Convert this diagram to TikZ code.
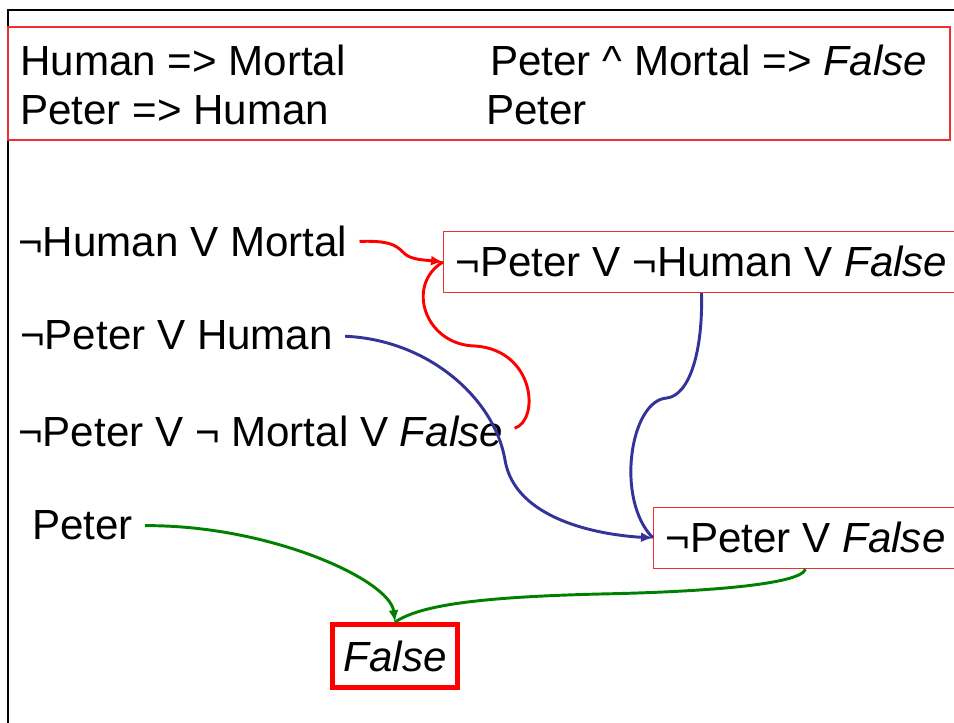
\documentclass[tikz,border=0pt]{standalone}
\usepackage{fontspec}
\setmainfont{Liberation Sans}
\usetikzlibrary{arrows.meta}

\definecolor{resblue}{HTML}{333399}
\definecolor{resgreen}{HTML}{008000}
\definecolor{boxred}{HTML}{F03030}
\newcommand{\clausefont}{\fontsize{31.6pt}{38pt}\selectfont}

\tikzstyle{clause} = [anchor=base west, inner sep=0pt, font=\clausefont]
\tikzstyle{resolvent} = [draw=boxred, line width=0.9pt, anchor=base west, inner xsep=9pt, inner ysep=0pt, minimum height=46pt, font=\clausefont]
\tikzstyle{goalbox} = [draw=red, line width=3.75pt, minimum width=93.75pt, minimum height=47pt, inner sep=0pt, font=\clausefont]
\tikzstyle{kb} = [draw=boxred, line width=0.9pt]
\tikzstyle{frame} = [line width=1.6pt]
\tikzstyle{wire} = [line width=2.2pt]
\tikzstyle{link} = [wire, -{Latex[length=9pt,width=7.5pt]}]
\tikzstyle{gap} = [shorten <=9pt]

\begin{document}
\begin{tikzpicture}[x=0.75pt, y=-0.75pt]
\useasboundingbox (0,0) rectangle (954,723);
\clip (0,0) rectangle (954,723);

\draw[frame] (8,723) -- (8,10) -- (954,10);

% knowledge base
\draw[kb] (8,27) rectangle (950,140);
\node[clause] (h1) at (20,76) {Human => Mortal};
\node[clause] (h2) at (20,125) {Peter => Human};
\node[clause] (h3) at (490,76) {Peter \textasciicircum{} Mortal => \textit{False}};
\node[clause] (h4) at (486,125) {Peter};

% clauses
\node[clause] (c1) at (18,257) {¬Human V Mortal};
\node[clause] (c2) at (20,350) {¬Peter V Human};
\node[clause] (c3) at (18,447) {¬Peter V ¬ Mortal V \textit{False}};
\node[clause] (c4) at (32,540) {Peter};

\node[resolvent] (p1) at (443,277) {¬Peter V ¬Human V \textit{False}};
\node[resolvent] (p2) at (653,553) {¬Peter V \textit{False}};
\node[goalbox] (goal) at (395,656) {\textit{False}};

% resolution steps
\draw[link, gap, red] (c1.east) .. controls (395,240) and (398,248) .. (405,254) .. controls (412,260) and (425,260) .. (p1.west);
\draw[wire, gap, red] (c3.east) .. controls (540,420) and (535,350) .. (475,346) .. controls (425,345) and (405,285) .. (p1.west);

\draw[link, gap, resblue] (c2.east) .. controls (430,340) and (495,400) .. (505,460) .. controls (515,520) and (600,535) .. (p2.west);
\draw[wire, resblue] (p1.south) .. controls (703,350) and (690,395) .. (667,398) .. controls (630,400) and (615,500) .. (p2.west);

\draw[link, gap, resgreen] (c4.east) .. controls (270,525) and (390,580) .. (goal.north);
\draw[wire, resgreen] (p2.south) .. controls (800,585) and (700,592) .. (600,594) .. controls (480,597) and (420,605) .. (goal.north);
\end{tikzpicture}
\end{document}
